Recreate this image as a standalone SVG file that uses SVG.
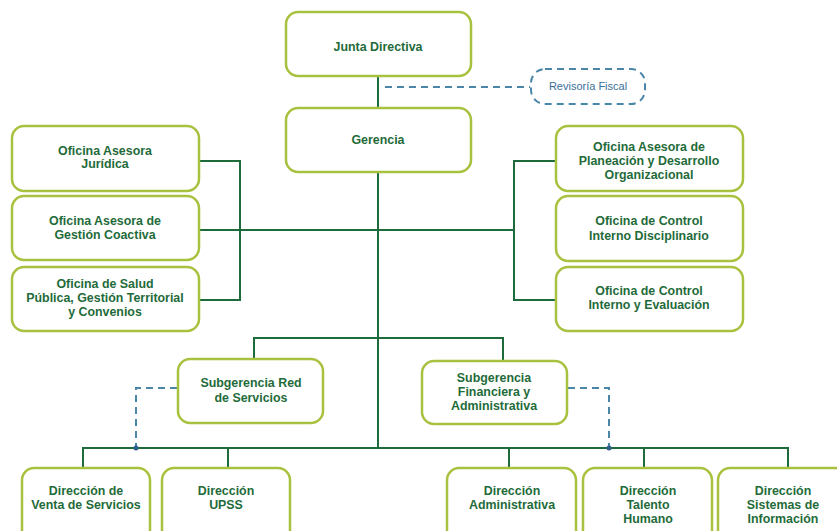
<svg xmlns="http://www.w3.org/2000/svg" width="837" height="531" viewBox="0 0 837 531">
<style>
.box{fill:#fff;stroke:#a8c13f;stroke-width:2.5}
.t{font-family:"Liberation Sans",Arial,sans-serif;font-weight:bold;font-size:12.4px;fill:#1f6b3a;text-anchor:middle}
.rf{font-family:"Liberation Sans",Arial,sans-serif;font-size:11px;fill:#3a6f98;text-anchor:middle}
.ln{fill:none;stroke:#1d6b3a;stroke-width:2}
.ds{fill:none;stroke:#4a86a8;stroke-width:2;stroke-dasharray:7,5}
</style>
<rect width="837" height="531" fill="#fff"/>
<g id="connectors">
<path class="ln" d="M378 76V108M378 172V448"/>
<path class="ln" d="M199 161H240V300H199M199 230H514M556 161H514V300H556"/>
<path class="ln" d="M254 359V338H503V361"/>
<path class="ln" d="M83 468V448H788V468M228 448V468M509 448V468M644 448V468"/>
<path class="ds" d="M385 87H530"/>
<path class="ds" d="M177 388H136V446"/>
<path class="ds" d="M568 388H609V446"/>
<circle cx="136" cy="448" r="2.5" fill="#2f5f8a"/>
<circle cx="609" cy="448" r="2.5" fill="#2f5f8a"/>
</g>
<g id="junta"><rect class="box" x="286" y="12" width="185" height="64" rx="12"/><text class="t" x="378" y="51">Junta Directiva</text></g>
<g id="revisoria"><rect x="531" y="69" width="114" height="35" rx="14" fill="#fff" stroke="#4a86a8" stroke-width="2" stroke-dasharray="7,5"/><text class="rf" x="588" y="90">Revisoría Fiscal</text></g>
<g id="gerencia"><rect class="box" x="286" y="108" width="185" height="64" rx="12"/><text class="t" x="378" y="144">Gerencia</text></g>
<g id="juridica"><rect class="box" x="12" y="126" width="187" height="65" rx="12"/><text class="t" x="105" y="155">Oficina Asesora</text><text class="t" x="105" y="168">Jurídica</text></g>
<g id="coactiva"><rect class="box" x="12" y="196" width="187" height="64" rx="12"/><text class="t" x="105" y="225">Oficina Asesora de</text><text class="t" x="105" y="239">Gestión Coactiva</text></g>
<g id="salud"><rect class="box" x="12" y="267" width="187" height="64" rx="12"/><text class="t" x="105" y="288">Oficina de Salud</text><text class="t" x="105" y="302">Pública, Gestión Territorial</text><text class="t" x="105" y="316">y Convenios</text></g>
<g id="planeacion"><rect class="box" x="556" y="126" width="187" height="65" rx="12"/><text class="t" x="649" y="151">Oficina Asesora de</text><text class="t" x="649" y="165">Planeación y Desarrollo</text><text class="t" x="649" y="179">Organizacional</text></g>
<g id="disciplinario"><rect class="box" x="556" y="196" width="187" height="65" rx="12"/><text class="t" x="649" y="225">Oficina de Control</text><text class="t" x="649" y="240">Interno Disciplinario</text></g>
<g id="evaluacion"><rect class="box" x="556" y="267" width="187" height="64" rx="12"/><text class="t" x="649" y="295">Oficina de Control</text><text class="t" x="649" y="309">Interno y Evaluación</text></g>
<g id="subred"><rect class="box" x="178" y="359" width="145" height="64" rx="12"/><text class="t" x="251" y="387">Subgerencia Red</text><text class="t" x="251" y="402">de Servicios</text></g>
<g id="subfin"><rect class="box" x="422" y="361" width="145" height="63" rx="12"/><text class="t" x="494" y="382">Subgerencia</text><text class="t" x="494" y="396">Financiera y</text><text class="t" x="494" y="410">Administrativa</text></g>
<g id="venta"><rect class="box" x="22" y="468" width="128" height="80" rx="12"/><text class="t" x="86" y="495">Dirección de</text><text class="t" x="86" y="509">Venta de Servicios</text></g>
<g id="upss"><rect class="box" x="162" y="468" width="128" height="80" rx="12"/><text class="t" x="226" y="495">Dirección</text><text class="t" x="226" y="509">UPSS</text></g>
<g id="administrativa"><rect class="box" x="447" y="468" width="129" height="80" rx="12"/><text class="t" x="512" y="495">Dirección</text><text class="t" x="512" y="509">Administrativa</text></g>
<g id="talento"><rect class="box" x="583" y="468" width="129" height="80" rx="12"/><text class="t" x="648" y="495">Dirección</text><text class="t" x="648" y="509">Talento</text><text class="t" x="648" y="523">Humano</text></g>
<g id="sistemas"><rect class="box" x="718" y="468" width="129" height="80" rx="12"/><text class="t" x="783" y="495">Dirección</text><text class="t" x="783" y="509">Sistemas de</text><text class="t" x="783" y="523">Información</text></g>
</svg>
